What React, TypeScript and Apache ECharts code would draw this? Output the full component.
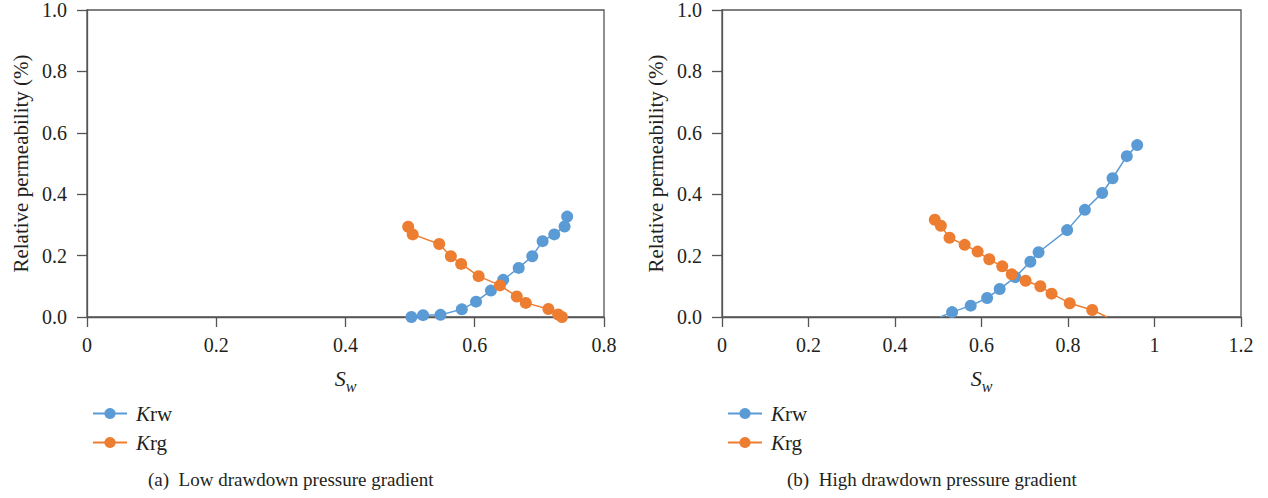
import React, { useEffect, useRef } from "react";
import * as echarts from "echarts";

// (a) Low drawdown pressure gradient
const krwLowSw = [0.502, 0.52, 0.547, 0.58, 0.602, 0.625, 0.644, 0.668, 0.689, 0.705, 0.723, 0.739, 0.743];
const krwLow = [0.0, 0.006, 0.007, 0.025, 0.05, 0.086, 0.121, 0.16, 0.198, 0.247, 0.269, 0.295, 0.327];
const krgLowSw = [0.497, 0.504, 0.545, 0.563, 0.579, 0.606, 0.639, 0.665, 0.679, 0.714, 0.729, 0.735];
const krgLow = [0.294, 0.269, 0.238, 0.198, 0.173, 0.133, 0.103, 0.067, 0.046, 0.026, 0.008, 0.0];

// (b) High drawdown pressure gradient
const krwHighSw = [0.532, 0.575, 0.613, 0.642, 0.678, 0.713, 0.732, 0.798, 0.839, 0.879, 0.903, 0.936, 0.96];
const krwHigh = [0.016, 0.037, 0.062, 0.091, 0.13, 0.18, 0.211, 0.283, 0.349, 0.404, 0.452, 0.524, 0.56];
const krwHighLineStart = [0.505, 0.0]; // line continues to the axis, no marker
const krgHighSw = [0.492, 0.506, 0.526, 0.561, 0.591, 0.618, 0.648, 0.67, 0.702, 0.736, 0.762, 0.804, 0.856];
const krgHigh = [0.317, 0.297, 0.258, 0.235, 0.213, 0.188, 0.165, 0.139, 0.118, 0.1, 0.076, 0.045, 0.023];
const krgHighLineEnd = [0.89, 0.0]; // line continues to the axis, no marker

const seriesNames = ["Krw", "Krg"];
const captions = ["(a)  Low drawdown pressure gradient", "(b)  High drawdown pressure gradient"];
const yTicks = [0, 0.2, 0.4, 0.6, 0.8, 1.0];
const yAxisName = "Relative permeability (%)";

const BLUE = "#5B9BD5";
const ORANGE = "#ED7D31";
const FONT = "Liberation Serif";
const TEXT = "#231f20";
const AXIS = "#555555";

const pairs = (xs: number[], ys: number[]) => xs.map((x, i) => [x, ys[i]]);

export default function App() {
  const ref = useRef<HTMLDivElement>(null);
  useEffect(() => {
    if (!ref.current) return;
    const chart = echarts.init(ref.current, null, { renderer: "svg" });

    const grids = [
      { left: 87, top: 10, width: 517, height: 307 },
      { left: 722, top: 10, width: 519, height: 307 },
    ];

    const xAxisBase = (gi: number, max: number) => ({
      type: "value",
      gridIndex: gi,
      min: 0,
      max,
      interval: 0.2,
      name: "{s|S}{w|w}",
      nameLocation: "middle",
      nameGap: 50,
      nameTextStyle: {
        rich: {
          s: { fontFamily: FONT, fontStyle: "italic", fontSize: 22, color: TEXT, verticalAlign: "top" },
          w: { fontFamily: FONT, fontStyle: "italic", fontSize: 16, color: TEXT, padding: [11, 0, 0, 0], verticalAlign: "top" },
        },
      },
      axisLine: { show: true, onZero: false, lineStyle: { color: AXIS, width: 1.3 } },
      axisTick: { show: true, length: 10, lineStyle: { color: AXIS, width: 1.3 } },
      axisLabel: {
        fontFamily: FONT,
        fontSize: 20,
        color: TEXT,
        margin: 18,
        formatter: (v: number) => String(Math.round(v * 10) / 10),
      },
      splitLine: { show: false },
    });

    const yAxisBase = (gi: number) => ({
      type: "value",
      gridIndex: gi,
      min: 0,
      max: 1,
      interval: 0.2,
      name: yAxisName,
      nameLocation: "middle",
      nameGap: 56,
      nameTextStyle: { fontFamily: FONT, fontSize: 21, color: TEXT },
      axisLine: { show: true, lineStyle: { color: AXIS, width: 1.3 } },
      axisTick: { show: true, length: 10, lineStyle: { color: AXIS, width: 1.3 } },
      axisLabel: {
        fontFamily: FONT,
        fontSize: 20,
        color: TEXT,
        margin: 20,
        formatter: (v: number) => v.toFixed(1),
        customValues: yTicks,
      },
      splitLine: { show: false },
    });

    const lineSeries = (name: string, color: string, gi: number, data: any[]) => ({
      name,
      type: "line",
      xAxisIndex: gi,
      yAxisIndex: gi,
      data,
      symbol: "circle",
      symbolSize: 12,
      showSymbol: true,
      clip: true,
      lineStyle: { color, width: 1.5 },
      itemStyle: { color },
    });

    const legend = (left: number) => ({
      orient: "vertical",
      left,
      top: 398,
      itemWidth: 34,
      itemHeight: 14,
      itemGap: 8,
      data: seriesNames,
      selectedMode: false,
      formatter: (n: string) => "{i|" + n[0] + "}" + n.slice(1),
      textStyle: {
        fontFamily: FONT,
        fontSize: 21,
        color: TEXT,
        lineHeight: 21,
        padding: [0, 0, 0, 4],
        rich: { i: { fontFamily: FONT, fontStyle: "italic", fontSize: 21, color: TEXT, lineHeight: 21 } },
      },
    });

    chart.setOption({
      animation: false,
      backgroundColor: "#ffffff",
      grid: grids.map((g) => ({
        ...g,
        show: true,
        borderColor: AXIS,
        borderWidth: 1.3,
        backgroundColor: "transparent",
      })),
      xAxis: [xAxisBase(0, 0.8), xAxisBase(1, 1.2)],
      yAxis: [yAxisBase(0), yAxisBase(1)],
      legend: [legend(87), legend(722)],
      series: [
        lineSeries(seriesNames[0], BLUE, 0, pairs(krwLowSw, krwLow)),
        lineSeries(seriesNames[1], ORANGE, 0, pairs(krgLowSw, krgLow)),
        lineSeries(seriesNames[0], BLUE, 1, [
          { value: krwHighLineStart, symbol: "none" },
          ...pairs(krwHighSw, krwHigh),
        ]),
        lineSeries(seriesNames[1], ORANGE, 1, [
          ...pairs(krgHighSw, krgHigh),
          { value: krgHighLineEnd, symbol: "none" },
        ]),
      ],
      graphic: [
        {
          type: "text",
          left: 148,
          top: 470,
          style: { text: captions[0], fontFamily: FONT, fontSize: 19, fill: TEXT },
        },
        {
          type: "text",
          left: 787,
          top: 470,
          style: { text: captions[1], fontFamily: FONT, fontSize: 19, fill: TEXT },
        },
      ],
    });

    return () => chart.dispose();
  }, []);

  return (
    <div
      ref={ref}
      style={{ position: "fixed", left: 0, top: 0, width: 1268, height: 498, background: "#fff" }}
    />
  );
}
